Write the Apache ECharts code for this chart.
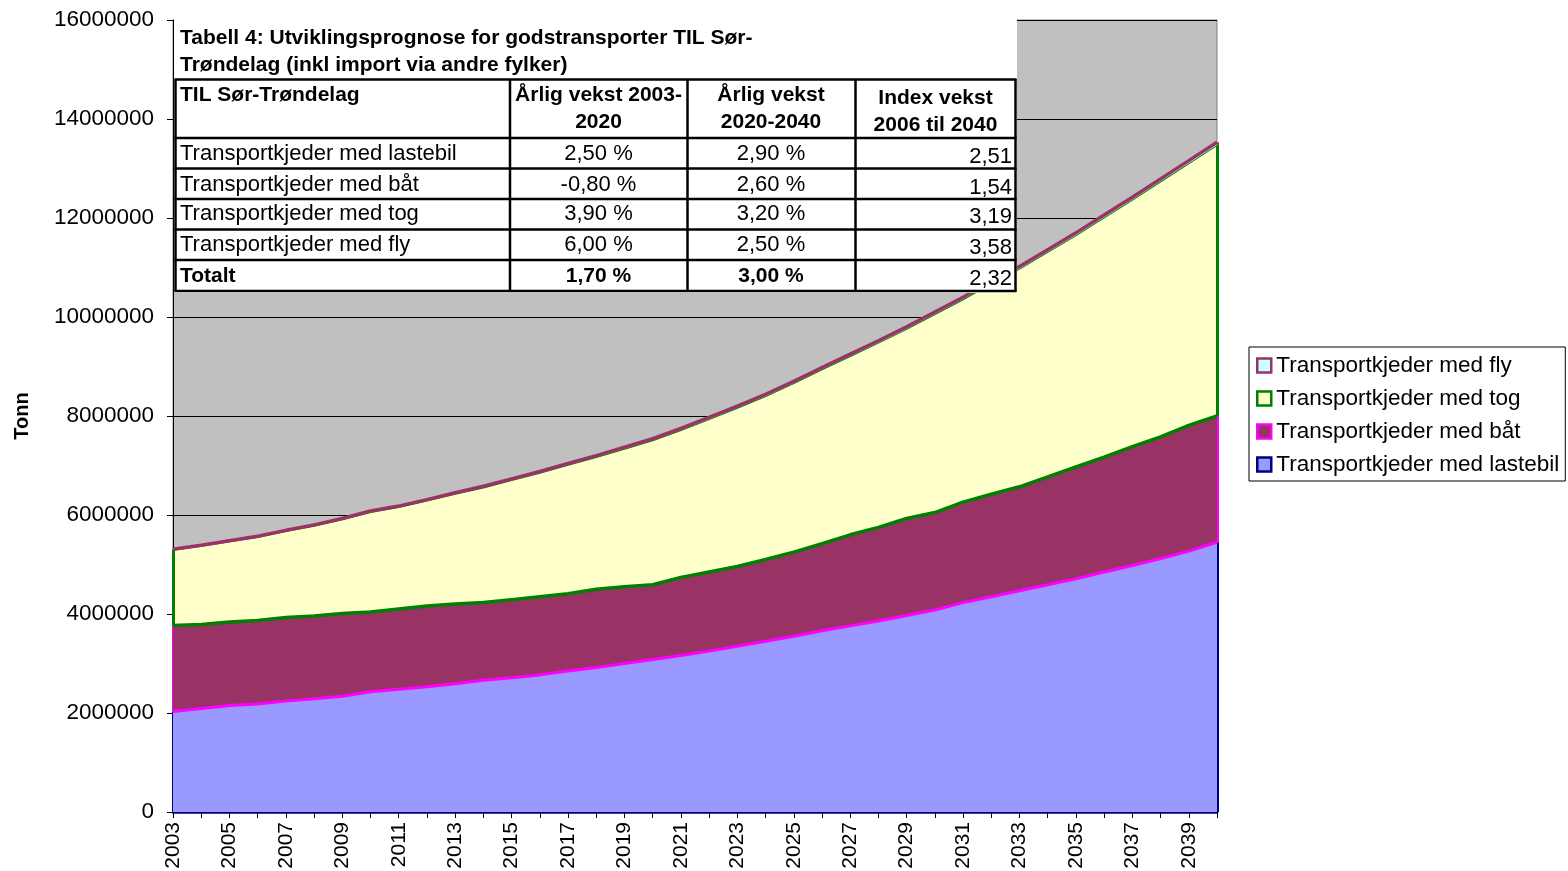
<!DOCTYPE html>
<html><head><meta charset="utf-8">
<script src="https://cdn.jsdelivr.net/npm/echarts@6/dist/echarts.min.js"></script>
<style>html,body{margin:0;padding:0;background:#fff}#c{width:1568px;height:871px}</style>
</head><body><div id="c"></div>
<script>
const years = ['2003','2004','2005','2006','2007','2008','2009','2010','2011','2012','2013','2014','2015','2016','2017','2018','2019','2020','2021','2022','2023','2024','2025','2026','2027','2028','2029','2030','2031','2032','2033','2034','2035','2036','2037','2038','2039','2040'];
const lastebil = [2030000,2090000,2150000,2180000,2240000,2290000,2340000,2430000,2480000,2530000,2590000,2660000,2710000,2770000,2850000,2920000,3000000,3080000,3160000,3250000,3350000,3450000,3550000,3660000,3760000,3860000,3970000,4080000,4230000,4350000,4470000,4590000,4710000,4850000,4980000,5120000,5270000,5450000];
const baat = [1740000,1700000,1690000,1690000,1690000,1670000,1670000,1610000,1620000,1630000,1610000,1570000,1580000,1580000,1560000,1580000,1550000,1510000,1580000,1600000,1610000,1650000,1700000,1760000,1840000,1890000,1960000,1970000,2030000,2070000,2100000,2180000,2260000,2320000,2400000,2460000,2540000,2550000];
const tog = [1528000,1587000,1627000,1686000,1745000,1824000,1903000,2022000,2061000,2130000,2229000,2327000,2416000,2504000,2603000,2671000,2790000,2918000,2977000,3086000,3205000,3304000,3413000,3523000,3612000,3731000,3830000,4009000,4098000,4257000,4406000,4544000,4683000,4842000,4991000,5160000,5298000,5477000];
const fly = [12000,12700,13500,14300,15100,16000,17000,18000,19100,20200,21400,22700,24100,25500,27100,28700,30400,32200,33000,33900,34700,35600,36500,37400,38300,39300,40300,41300,42300,43400,44400,45500,46700,47800,49000,50300,51500,52800];
const seriesNames = ['Transportkjeder med lastebil','Transportkjeder med båt','Transportkjeder med tog','Transportkjeder med fly'];
const yAxisName = 'Tonn';
const tableTitle = ['Tabell 4: Utviklingsprognose for godstransporter TIL Sør-','Trøndelag (inkl import via andre fylker)'];
const tableHeader = [['TIL Sør-Trøndelag'],['Årlig vekst 2003-','2020'],['Årlig vekst','2020-2040'],['Index vekst','2006 til 2040']];
const tableRowLabels = ['Transportkjeder med lastebil','Transportkjeder med båt','Transportkjeder med tog','Transportkjeder med fly','Totalt'];
const growth0320 = ['2,50 %','-0,80 %','3,90 %','6,00 %','1,70 %'];
const growth2040 = ['2,90 %','2,60 %','3,20 %','2,50 %','3,00 %'];
const indexGrowth = ['2,51','1,54','3,19','3,58','2,32'];

const FONT = '"Liberation Sans", Arial, sans-serif';
const values = [lastebil, baat, tog, fly];
const fills = ['#9999FF','#993366','#FFFFCC','#CCFFFF'];
const borders = ['#000080','#FF00FF','#008000','#993366'];
const topLine = ['#FF00FF','#008000','#008000','#993366'];
const topWidth = [3, 3.5, 2, 3.5];
const zs = [6,5,4,7];

// cumulative bases
const cum = [years.map(() => 0)];
values.forEach((arr, k) => cum.push(arr.map((v, i) => cum[k][i] + v)));
const last = years.length - 1;

const series = values.map((arr, k) => ({
  name: seriesNames[k],
  type: 'line',
  stack: 'total',
  data: arr,
  symbol: 'none',
  z: zs[k],
  lineStyle: { color: topLine[k], width: topWidth[k] },
  itemStyle: { color: fills[k], borderColor: borders[k] },
  areaStyle: { color: fills[k], opacity: 1 },
  markLine: {
    silent: true,
    symbol: ['none','none'],
    label: { show: false },
    animation: false,
    lineStyle: { type: 'solid', color: borders[k], width: 3 },
    data: [
      [{ coord: [years[0], cum[k][0]] }, { coord: [years[0], cum[k+1][0]] }],
      [{ coord: [years[last], cum[k][last]] }, { coord: [years[last], cum[k+1][last]] }]
    ]
  }
}));

// Table overlay
const g = [];
const TZ = 100;
g.push({ type: 'rect', z: TZ, shape: { x: 174, y: 19, width: 843, height: 274 }, style: { fill: '#fff' } });
const hy = [79.5, 138, 168.5, 199, 229.5, 260, 291];
const vx = [175.5, 510, 687.5, 855.5, 1015.5];
hy.forEach(y => g.push({ type: 'line', z: TZ + 1, shape: { x1: 174.5, y1: y, x2: 1016.5, y2: y }, style: { stroke: '#000', lineWidth: 2.5 } }));
vx.forEach(x => g.push({ type: 'line', z: TZ + 1, shape: { x1: x, y1: 79, x2: x, y2: 291.5 }, style: { stroke: '#000', lineWidth: 2.5 } }));
function txt(t, x, y, bold, align) {
  g.push({ type: 'text', z: TZ + 2, style: { text: t, x: x, y: y, font: (bold ? 'bold ' : '') + (bold ? '21px ' : '22px ') + FONT, fill: '#000', textAlign: align, align: align, textVerticalAlign: 'middle', verticalAlign: 'middle' } });
}
txt(tableTitle[0], 180, 38, true, 'left');
txt(tableTitle[1], 180, 65, true, 'left');
txt(tableHeader[0][0], 180, 95, true, 'left');
txt(tableHeader[1][0], 598.5, 95, true, 'center');
txt(tableHeader[1][1], 598.5, 122, true, 'center');
txt(tableHeader[2][0], 771, 95, true, 'center');
txt(tableHeader[2][1], 771, 122, true, 'center');
txt(tableHeader[3][0], 935.5, 98, true, 'center');
txt(tableHeader[3][1], 935.5, 125, true, 'center');
const rowY = [154, 185, 214, 245, 276];
tableRowLabels.forEach((lab, i) => {
  const b = i === tableRowLabels.length - 1;
  txt(lab, 180, rowY[i], b, 'left');
  txt(growth0320[i], 598.5, rowY[i], b, 'center');
  txt(growth2040[i], 771, rowY[i], b, 'center');
  txt(indexGrowth[i], 1012, rowY[i] + 2.5, false, 'right');
});

const legendOrder = [3, 2, 1, 0];
const option = {
  animation: false,
  backgroundColor: '#fff',
  textStyle: { fontFamily: FONT },
  grid: { left: 173, top: 20, width: 1044, height: 792, containLabel: false, outerBoundsMode: 'none',
    show: true, backgroundColor: '#C0C0C0', borderColor: '#808080', borderWidth: 1 },
  xAxis: {
    type: 'category', data: years, boundaryGap: false,
    axisLine: { show: true, lineStyle: { color: '#000080', width: 2.5 } },
    axisTick: { show: true, interval: 0, length: 6, lineStyle: { color: '#000', width: 1 } },
    axisLabel: { interval: 1, rotate: 90, fontSize: 21, color: '#000', margin: 10, fontFamily: FONT },
    splitLine: { show: false }
  },
  yAxis: {
    type: 'value', min: 0, max: 16000000, interval: 2000000,
    name: yAxisName, nameLocation: 'middle', nameRotate: 90, nameGap: 141,
    nameTextStyle: { fontWeight: 'bold', fontSize: 20, color: '#000', fontFamily: FONT },
    axisLine: { show: true, lineStyle: { color: '#000', width: 1 } },
    axisTick: { show: true, length: 6, lineStyle: { color: '#000', width: 1 } },
    axisLabel: { fontSize: 22.5, color: '#000', margin: 19, fontFamily: FONT, formatter: v => String(v) },
    splitLine: { show: true, lineStyle: { color: '#000', width: 1 } }
  },
  legend: {
    orient: 'vertical', left: 1249, top: 347,
    padding: [7, 6, 5, 7], itemGap: 10, itemWidth: 14, itemHeight: 14,
    borderColor: '#000', borderWidth: 1, backgroundColor: '#fff',
    selectedMode: false,
    textStyle: { fontSize: 22.5, color: '#000', fontFamily: FONT },
    data: legendOrder.map(k => ({ name: seriesNames[k], icon: 'rect',
      itemStyle: { color: fills[k], borderColor: borders[k], borderWidth: 2.5 } }))
  },
  series: series,
  graphic: g
};
const chart = echarts.init(document.getElementById('c'), null, { renderer: 'canvas' });
chart.setOption(option);
</script>
</body></html>
